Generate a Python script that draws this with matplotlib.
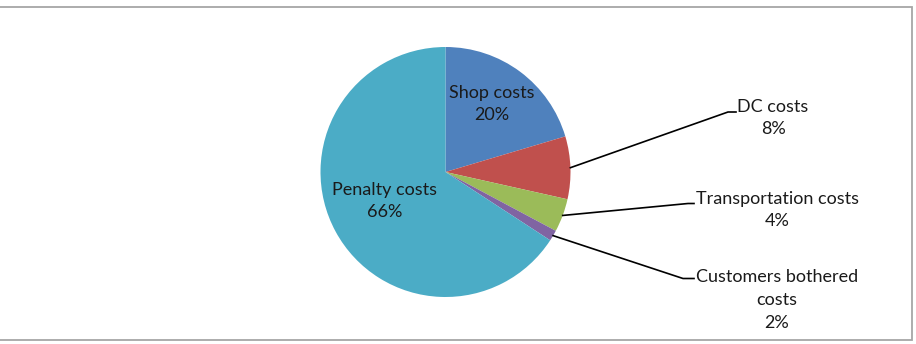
import numpy as np
import matplotlib
matplotlib.use("Agg")
import matplotlib.pyplot as plt

categories = ["Shop costs", "DC costs", "Transportation costs", "Customers bothered\ncosts", "Penalty costs"]
shares = [20.4, 8.1, 4.3, 1.4, 65.8]
pct_labels = ["20%", "8%", "4%", "2%", "66%"]
colors = ["#4F81BD", "#C0504D", "#9BBB59", "#8064A2", "#4BACC6"]

W, H = 916, 344
fig = plt.figure(figsize=(W / 100, H / 100), dpi=100)
ax = fig.add_axes([0, 0, 1, 1])

cx, cy, R = 445.5, H - 172, 125
wedges, _ = ax.pie(shares, colors=colors, startangle=90, counterclock=False,
                   center=(cx, cy), radius=R, frame=True,
                   wedgeprops=dict(linewidth=0))
ax.set_xlim(0, W)
ax.set_ylim(0, H)
ax.axis("off")

font = dict(family=["Lato", "DejaVu Sans"], fontsize=13, color="#1a1a1a",
            ha="center", va="center", linespacing=1.5)

# inside labels (layout positions in pixels)
inside = {0: (492, 104), 4: (385, 201)}
for i, (px, py) in inside.items():
    ax.text(px, H - py, f"{categories[i]}\n{pct_labels[i]}", **font)

# outside labels: text center, elbow point, horizontal end
outside = {
    1: ((773, 118), (728, 112), (736, 112)),
    2: ((777, 210), (688, 203.5), (694, 203.5)),
    3: ((777, 300), (683, 278.5), (694, 278.5)),
}
for i, ((tx, ty), (ex, ey), (hx, hy)) in outside.items():
    w = wedges[i]
    mid = np.deg2rad((w.theta1 + w.theta2) / 2)
    sx, sy = cx + R * np.cos(mid), cy + R * np.sin(mid)
    ax.plot([sx, ex, hx], [sy, H - ey, H - hy], color="black", lw=1.2,
            solid_joinstyle="miter")
    ax.text(tx, H - ty, f"{categories[i]}\n{pct_labels[i]}", **font)

# chart border
bc = "#a6a6a6"
ax.plot([0, 911.5, 911.5, 0], [H - 6.5, H - 6.5, H - 339.5, H - 339.5],
        color=bc, lw=1.3, solid_joinstyle="miter")

fig.savefig("out.png", dpi=100, facecolor="white")
